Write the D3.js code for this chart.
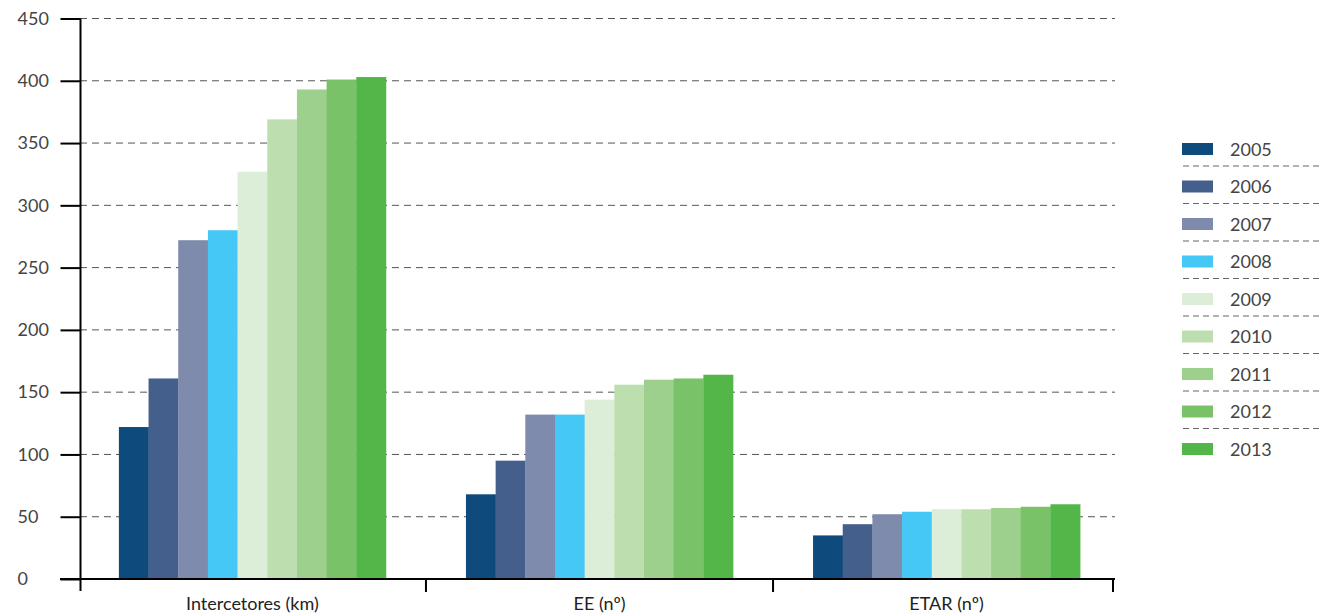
<!DOCTYPE html>
<html><head><meta charset="utf-8">
<script src="https://cdn.jsdelivr.net/npm/d3@7/dist/d3.min.js"></script>
<style>body{margin:0;background:#fff}svg{display:block;font-family:Lato,"Open Sans",sans-serif}</style>
</head><body><svg id="c" width="1319" height="614"></svg>
<script>
const categories = ["Intercetores (km)", "EE (nº)", "ETAR (nº)"];
const years = ["2005","2006","2007","2008","2009","2010","2011","2012","2013"];
const intercetores = [122, 161, 272, 280, 327, 369, 393, 401, 403];
const ee = [68, 95, 132, 132, 144, 156, 160, 161, 164];
const etar = [35, 44, 52, 54, 56, 56, 57, 58, 60];
const yTicks = [0, 50, 100, 150, 200, 250, 300, 350, 400, 450];
const colors = ["#0e4a7b","#445f8c","#7f8bad","#45c8f5","#dcedd8","#bddfb0","#9cd08c","#7ac267","#52b748"];

const series = [intercetores, ee, etar];
const svg = d3.select("#c");
const x0 = d3.scaleBand().domain(categories).range([80, 1119]).paddingInner(0.2305).paddingOuter(0.112);
const x1 = d3.scaleBand().domain(years).range([0, x0.bandwidth()]);
const y = d3.scaleLinear().domain([0, 450]).range([579, 18.5]);
const color = d3.scaleOrdinal().domain(years).range(colors);

// gridlines
svg.append("g").selectAll("line").data(yTicks.filter(d => d > 0)).join("line")
  .attr("x1", 80).attr("x2", 1115).attr("y1", d => y(d)).attr("y2", d => y(d))
  .attr("stroke", "#555").attr("stroke-width", 1).attr("stroke-dasharray", "7,5");

// bars
categories.forEach((c, ci) => {
  svg.append("g").attr("transform", `translate(${x0(c)},0)`)
    .selectAll("rect").data(years.map((yr, i) => ({yr, v: series[ci][i]}))).join("rect")
    .attr("x", d => x1(d.yr)).attr("width", x1.bandwidth() + 0.3)
    .attr("y", d => y(d.v)).attr("height", d => y(0) - y(d.v))
    .attr("fill", d => color(d.yr));
});

// y axis
const yAxis = d3.axisLeft(y).tickValues(yTicks).tickSize(20).tickPadding(12);
const gy = svg.append("g").attr("transform", "translate(80.5,0)").call(yAxis);
gy.select(".domain").remove();
gy.selectAll(".tick line").attr("stroke", "#000").attr("stroke-width", 2);
gy.selectAll(".tick text").attr("font-size", 18).attr("fill", "#444")
  .attr("font-family", "Lato,sans-serif").attr("text-anchor", "start").attr("x", -63);
svg.append("line").attr("x1", 80.5).attr("x2", 80.5).attr("y1", y(450)).attr("y2", 591).attr("stroke", "#000").attr("stroke-width", 2);

// x axis
svg.append("line").attr("x1", 60).attr("x2", 1115).attr("y1", y(0)).attr("y2", y(0)).attr("stroke", "#000").attr("stroke-width", 2);
const sep = categories.map(c => x0(c) + x0.bandwidth() + x0.step() * x0.paddingInner() / 2);
sep[sep.length - 1] = 1113;
svg.append("g").selectAll("line").data(sep).join("line")
  .attr("x1", d => d).attr("x2", d => d).attr("y1", y(0)).attr("y2", 592)
  .attr("stroke", "#000").attr("stroke-width", 2);
svg.append("g").selectAll("text").data(categories).join("text")
  .attr("x", d => x0(d) + x0.bandwidth() / 2).attr("y", 610)
  .attr("text-anchor", "middle").attr("font-size", 18).attr("fill", "#222").text(d => d);

// legend
const lg = svg.append("g");
years.forEach((yr, i) => {
  const cy = 149 + i * 37.5;
  lg.append("rect").attr("x", 1182).attr("y", cy - 6).attr("width", 31).attr("height", 12).attr("fill", color(yr));
  lg.append("text").attr("x", 1230).attr("y", cy + 6.5).attr("font-size", 18).attr("fill", "#444").text(yr);
  if (i < years.length - 1) {
    lg.append("line").attr("x1", 1183).attr("x2", 1319).attr("y1", cy + 17).attr("y2", cy + 17)
      .attr("stroke", "#666").attr("stroke-width", 1).attr("stroke-dasharray", "6,4");
  }
});
</script></body></html>
